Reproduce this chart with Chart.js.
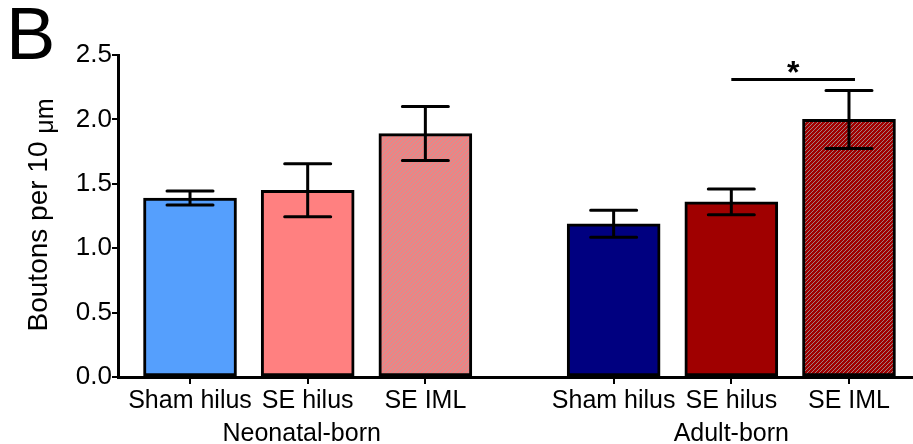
<!DOCTYPE html>
<html>
<head>
<meta charset="utf-8">
<script src="https://cdn.jsdelivr.net/npm/chart.js@4.4.0/dist/chart.umd.min.js"></script>
<style>
  body { margin: 0; background: #fff; }
  #wrap { position: relative; width: 913px; height: 444px; }
  #panel { position: absolute; left: 6px; top: -9px; font: 74px "Liberation Sans", Arial, sans-serif; color: #000; }
</style>
</head>
<body>
<div id="wrap">
  <canvas id="boutonChart" width="913" height="444"></canvas>
  <div id="panel">B</div>
</div>
<script>
// Values
const groups = ['Neonatal-born', 'Adult-born'];
const categories = ['Sham hilus', 'SE hilus', 'SE IML'];
const neonatalMeans = [1.39, 1.45, 1.89];
const neonatalSem = [0.055, 0.205, 0.21];
const adultMeans = [1.19, 1.36, 2.0];
const adultSem = [0.105, 0.10, 0.225];
const yTicks = [0, 0.5, 1.0, 1.5, 2.0, 2.5];

// gap between the two groups, in category units
const GROUP_STEP = 3.6;

function hatch(base, stripe) {
    const c = document.createElement('canvas');
    c.width = 4; c.height = 4;
    const g = c.getContext('2d');
    g.fillStyle = base;
    g.fillRect(0, 0, 4, 4);
    g.fillStyle = stripe;
    for (let i = 0; i < 4; i++) g.fillRect(i, 3 - i, 1, 1);
    return g.createPattern(c, 'repeat');
}

const fills = [
    '#559ffd', '#ff8080', hatch('#f08282', '#c29a9a'),
    '#000080', '#a00000', hatch('#a00000', '#a08080')
];

// build bar points from the arrays
const points = [];
const sems = [];
const tickLabels = [];
[neonatalMeans, adultMeans].forEach(function(means, g) {
    means.forEach(function(v, i) {
        points.push({ x: g * GROUP_STEP + i, y: v });
        sems.push(g === 0 ? neonatalSem[i] : adultSem[i]);
        tickLabels.push(categories[i]);
    });
});

const font = '"Liberation Sans", Arial, sans-serif';

// error bars, significance bar, group labels and y title
const extras = {
    id: 'extras',
    afterDatasetsDraw(chart) {
        const ctx = chart.ctx;
        const xs = chart.scales.x, ys = chart.scales.y;
        ctx.save();
        ctx.strokeStyle = '#000';
        ctx.lineWidth = 3;
        ctx.lineCap = 'round';
        points.forEach(function(p, i) {
            const x = xs.getPixelForValue(p.x);
            const top = ys.getPixelForValue(p.y + sems[i]);
            const bot = ys.getPixelForValue(p.y - sems[i]);
            ctx.beginPath();
            ctx.moveTo(x, top); ctx.lineTo(x, bot);
            ctx.moveTo(x - 23, top); ctx.lineTo(x + 23, top);
            ctx.moveTo(x - 23, bot); ctx.lineTo(x + 23, bot);
            ctx.stroke();
        });

        // significance: adult SE hilus vs SE IML
        const sy = ys.getPixelForValue(2.31);
        const x1 = xs.getPixelForValue(points[4].x);
        const x2 = xs.getPixelForValue(points[5].x) + 6;
        ctx.lineCap = 'butt';
        ctx.beginPath();
        ctx.moveTo(x1, sy); ctx.lineTo(x2, sy);
        ctx.stroke();
        ctx.fillStyle = '#000';
        ctx.textAlign = 'center';
        ctx.textBaseline = 'alphabetic';
        ctx.font = 'bold 32px ' + font;
        ctx.fillText('*', (x1 + x2) / 2, sy + 4);

        // group labels
        ctx.font = '25px ' + font;
        groups.forEach(function(name, g) {
            const cx = xs.getPixelForValue(g * GROUP_STEP + 1);
            ctx.fillText(name, cx - (g === 0 ? 6 : 0), 441);
        });

        // y axis title with subscript unit
        ctx.translate(47, 215);
        ctx.rotate(-Math.PI / 2);
        const main = 'Boutons per 10 ';
        ctx.font = '28px ' + font;
        const w1 = ctx.measureText(main).width;
        ctx.font = '25px ' + font;
        const w2 = ctx.measureText('\u03bcm').width;
        const start = -(w1 + w2) / 2;
        ctx.textAlign = 'left';
        ctx.font = '28px ' + font;
        ctx.fillText(main, start, 0);
        ctx.font = '25px ' + font;
        ctx.fillText('\u03bcm', start + w1, 6);
        ctx.restore();
    }
};

new Chart(document.getElementById('boutonChart').getContext('2d'), {
    type: 'bar',
    data: {
        datasets: [{
            data: points,
            backgroundColor: fills,
            borderColor: '#000',
            borderWidth: 3,
            borderSkipped: false,
            barThickness: 93
        }]
    },
    options: {
        responsive: false,
        animation: false,
        layout: { padding: { top: 55, left: 0, right: 0, bottom: 0 } },
        plugins: {
            legend: { display: false },
            tooltip: { enabled: false }
        },
        scales: {
            x: {
                type: 'linear',
                offset: false,
                min: -0.612,
                max: 6.144,
                grid: { offset: false, drawOnChartArea: false, drawTicks: true, tickLength: 7, color: '#000', lineWidth: 2 },
                border: { color: '#000', width: 3 },
                afterBuildTicks: function(scale) {
                    scale.ticks = points.map(p => ({ value: p.x }));
                },
                afterFit: function(scale) { scale.height = 67; },
                ticks: {
                    autoSkip: false,
                    maxRotation: 0,
                    padding: 2,
                    color: '#000',
                    font: { family: font, size: 25 },
                    callback: function(v, i) { return tickLabels[i]; }
                }
            },
            y: {
                min: 0,
                max: 2.5,
                grid: { drawOnChartArea: false, drawTicks: true, tickLength: 6, color: '#000', lineWidth: 2 },
                border: { color: '#000', width: 3 },
                afterBuildTicks: function(scale) {
                    scale.ticks = yTicks.map(v => ({ value: v }));
                },
                afterFit: function(scale) { scale.width = 118; },
                ticks: {
                    padding: 0,
                    color: '#000',
                    font: { family: font, size: 26 },
                    callback: function(v) { return v.toFixed(1); }
                }
            }
        }
    },
    plugins: [extras]
});
</script>
</body>
</html>
